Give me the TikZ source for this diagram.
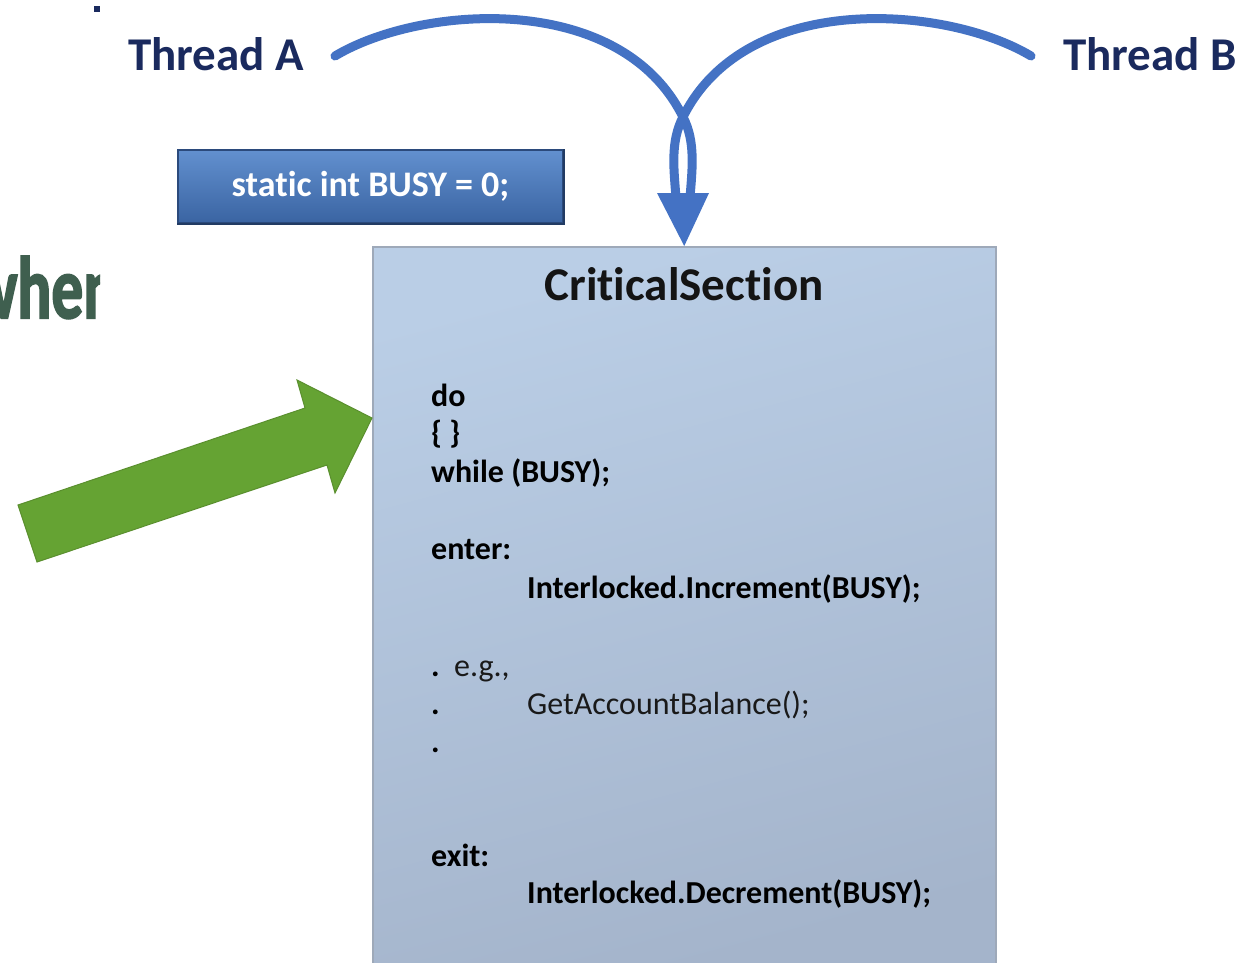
\documentclass[tikz,border=0pt]{standalone}
\usepackage{fontspec}
\setmainfont[Ligatures=NoCommon]{Carlito}
\newfontfamily\whenfont[FakeBold=2.5]{Carlito Bold}
\usetikzlibrary{arrows.meta}
\definecolor{navy}{HTML}{1A2A5E}
\definecolor{flowc}{HTML}{4472C4}
\definecolor{greenarrow}{HTML}{65A333}
\definecolor{greenedge}{HTML}{5A8F2E}
\definecolor{whengreen}{HTML}{3F5F4F}
\definecolor{cstop}{HTML}{BACEE6}
\definecolor{csbot}{HTML}{A4B4CB}
\definecolor{csedge}{HTML}{9EA9B9}
\definecolor{busytop}{HTML}{6290CF}
\definecolor{busymid}{HTML}{4A7BBD}
\definecolor{busybot}{HTML}{3A64A2}
\definecolor{busyedge}{HTML}{2B4A7C}
\tikzset{
  threadlbl/.style={font=\fontsize{47}{56}\selectfont\bfseries, text=navy, inner sep=0pt, anchor=base west},
  flow/.style={draw=flowc, line width=9pt, line cap=round},
  codeb/.style={font=\fontsize{32}{38}\selectfont\bfseries, text=black, inner sep=0pt, anchor=base west},
  coder/.style={font=\fontsize{32}{38}\selectfont, text=black!90, inner sep=0pt, anchor=base west},
  csbox/.style={draw=csedge, line width=1.5pt, top color=cstop, bottom color=csbot, shading angle=15, inner sep=0pt, anchor=north west},
  busybox/.style={draw=busyedge, line width=2pt, top color=busytop, middle color=busymid, bottom color=busybot, inner sep=0pt, text=white, font=\fontsize{36}{42}\selectfont\bfseries}
}
\begin{document}
\begin{tikzpicture}[x=1pt,y=-1pt]
\useasboundingbox (0,0) rectangle (1239,962);
\fill[white] (0,0) rectangle (1239,962);

% partial heading at the left edge
\begin{scope}
  \clip (0,0) rectangle (100,962);
  \node[font=\fontsize{88}{96}\selectfont\whenfont, text=whengreen, inner sep=0pt, anchor=base west, xscale=0.72] (when) at (-30,318) {when};
\end{scope}
\fill[navy] (94,6) rectangle (100,12);

% thread labels
\node[threadlbl] (tA) at (128,70) {Thread A};
\node[threadlbl] (tB) at (1063,70) {Thread B};

% static variable box
\node[busybox, minimum width=385pt, minimum height=73pt] (busy) at (370.5,186.5) {static int BUSY = 0;};
\draw[busyedge!80!black, line width=2.5pt] (busy.south west) -- (busy.south east) -- (busy.north east);

% critical section box
\node[csbox, minimum width=623pt, minimum height=724pt] (cs) at (372,246) {};
\node[font=\fontsize{47}{54}\selectfont\bfseries, text=black!92, inner sep=0pt, anchor=base] (title) at (684,300) {CriticalSection};

% code lines
\node[codeb] (l1) at (431,406) {do};
\node[codeb] (l2) at (431,443) {\{ \}};
\node[codeb] (l3) at (431,482) {while (BUSY);};
\node[codeb] (l4) at (431,559) {enter:};
\node[codeb] (l5) at (527,598) {Interlocked.Increment(BUSY);};
\node[codeb] (d1) at (431,676) {.};
\node[coder] (l6) at (454,676) {e.g.,};
\node[codeb] (d2) at (431,714) {.};
\node[coder] (l7) at (527,714) {GetAccountBalance();};
\node[codeb] (d3) at (431,752) {.};
\node[codeb] (l8) at (431,866) {exit:};
\node[codeb] (l9) at (527,903) {Interlocked.Decrement(BUSY);};

% blue connectors from both threads into the critical section
\coordinate (aS) at (335,56);
\coordinate (bS) at (1031,56);
\coordinate (cx) at (683,117);
\coordinate (hd) at (683,193);
\draw[flow] (aS) .. controls (420,5) and (620,-10) .. (cx)
  .. controls (696,142) and (692,170) .. ([xshift=7pt,yshift=-5pt]hd);
\draw[flow] (bS) .. controls (946,5) and (746,-10) .. (cx)
  .. controls (670,142) and (674,170) .. ([xshift=-7pt,yshift=-5pt]hd);
\fill[flowc] ([xshift=-26pt]hd) -- (cs.north) -- ([xshift=26pt]hd) -- cycle;

% green block arrow pointing at the critical section
\filldraw[fill=greenarrow, draw=greenedge, line width=1pt, line join=miter]
  (18,505) -- (305,408) -- (297,380) -- (cs.west |- 0,418) -- (335,493) -- (327,465) -- (37,562) -- cycle;
\end{tikzpicture}
\end{document}
